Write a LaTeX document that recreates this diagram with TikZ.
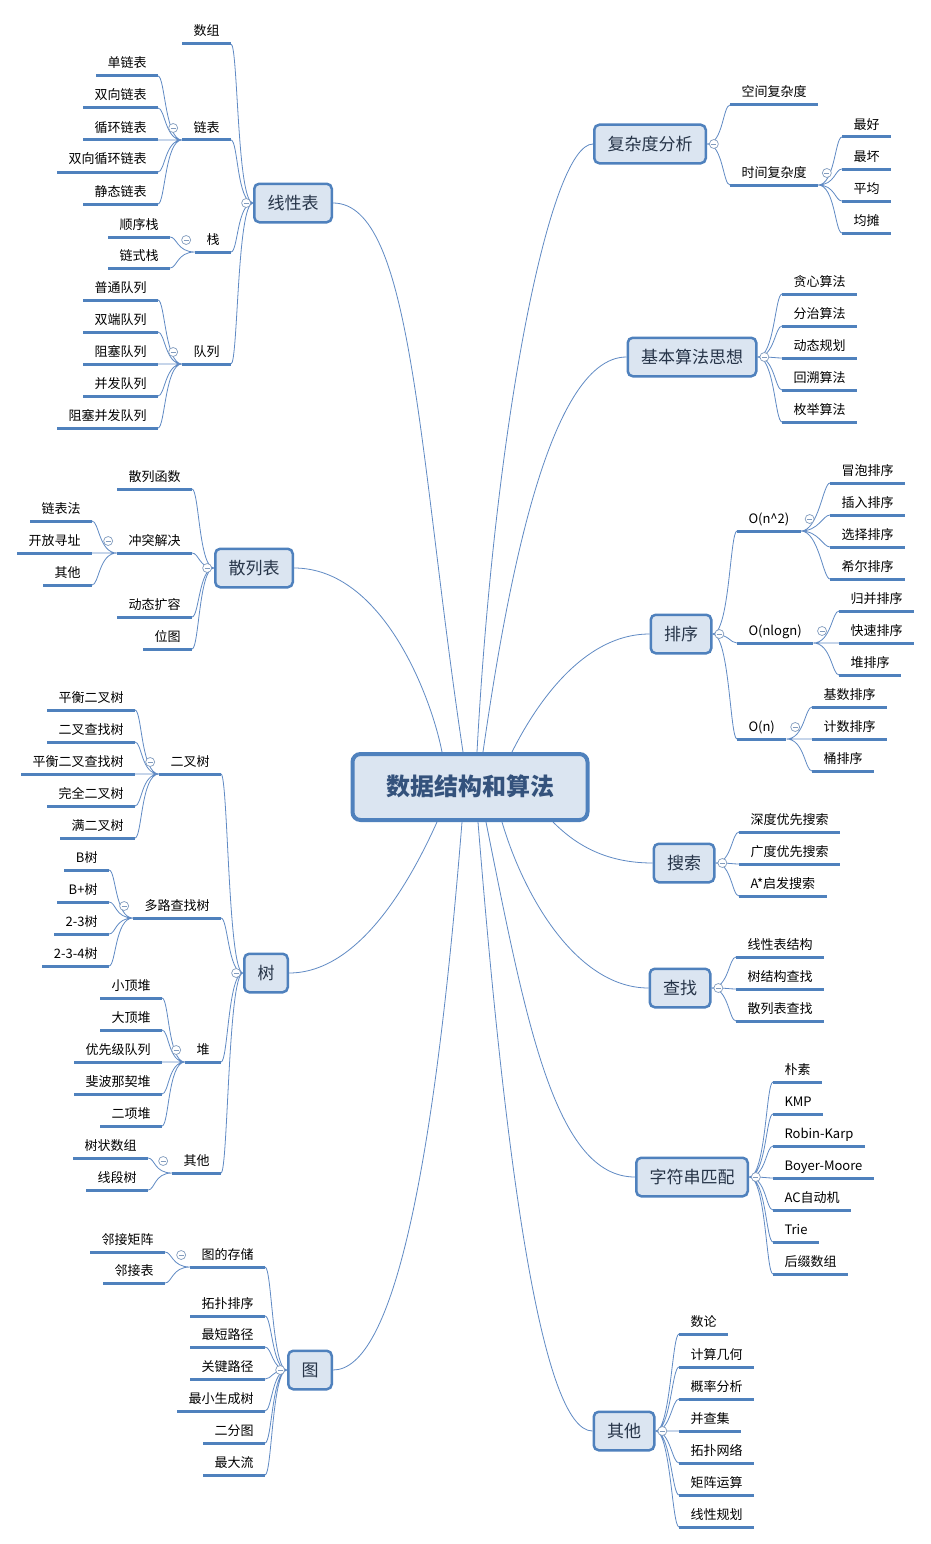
\documentclass[tikz,border=0pt]{standalone}
\usepackage{fontspec}
\setmainfont{Noto Sans CJK SC}
\usetikzlibrary{positioning,backgrounds}
\definecolor{boxfill}{RGB}{219,229,241}
\definecolor{boxline}{RGB}{79,129,189}
\definecolor{linkline}{RGB}{96,138,196}
\definecolor{foldline}{RGB}{130,156,190}
\definecolor{topictext}{RGB}{38,52,72}
\definecolor{roottext}{RGB}{52,82,124}

\begin{document}
\begin{tikzpicture}[x=1pt, y=-1pt,
    root/.style={draw=boxline, line width=4pt, fill=boxfill, rounded corners=8pt,
                 minimum width=235pt, minimum height=66pt, text=roottext,
                 font=\fontsize{24}{26}\selectfont\bfseries, text height=21pt, text depth=3.2pt},
    topic/.style={draw=boxline, line width=2.5pt, fill=boxfill, rounded corners=5pt,
                  minimum height=38.5pt, inner xsep=13.25pt, text=topictext,
                  font=\fontsize{17}{19}\selectfont, text height=15pt, text depth=2.5pt},
    leaf/.style={font=\fontsize{13}{15}\selectfont, inner xsep=11.5pt, inner ysep=5pt,
                 text height=11pt, text depth=3pt, outer sep=0pt,
                 append after command={(\tikzlastnode.south west) edge[uline] (\tikzlastnode.south east)}},
    leafl/.style={leaf, anchor=south east},
    leafr/.style={leaf, anchor=south west},
    uline/.style={draw=boxline, line width=3pt},
    conn/.style={draw=linkline, line width=0.8pt},
    lc/.style={to path={.. controls +(-#1,0) and +(7,0) .. (\tikztotarget)}},
    lc/.default=16,
    rc/.style={to path={.. controls +(#1,0) and +(-7,0) .. (\tikztotarget)}},
    rc/.default=16,
    fold/.style={circle, draw=foldline, fill=white, line width=0.7pt, inner sep=0pt, minimum size=9pt,
                 path picture={\draw[foldline, line width=0.7pt]
                   ([xshift=-2.5pt]path picture bounding box.center) -- ([xshift=2.5pt]path picture bounding box.center);}},
  ]
    \useasboundingbox (0,0) rectangle (931,1544);

    % Central topic
    \node[root] (root) at (470,787) {数据结构和算法};

    % Linear list
    \node[topic] (lin) at (293,203) {线性表};
    \node[leafl] (shuzu)    at (231,44)  {数组};
    \node[leafl] (lianbiao) at (231,140) {链表};
    \node[leafl] (zhan)     at (231,252) {栈};
    \node[leafl] (duilie)   at (231,364) {队列};
    \node[leafl] (danlb)  at (158,76)  {单链表};
    \node[leafl] (sxlb)   at (158,108) {双向链表};
    \node[leafl] (xhlb)   at (158,140) {循环链表};
    \node[leafl] (sxxhlb) at (158,172) {双向循环链表};
    \node[leafl] (jtlb)   at (158,204) {静态链表};
    \node[leafl] (sxz) at (170,237) {顺序栈};
    \node[leafl] (lsz) at (170,268) {链式栈};
    \node[leafl] (ptdl)   at (158,300) {普通队列};
    \node[leafl] (sddl)   at (158,332) {双端队列};
    \node[leafl] (zsdl)   at (158,364) {阻塞队列};
    \node[leafl] (bfdl)   at (158,396) {并发队列};
    \node[leafl] (zsbfdl) at (158,428) {阻塞并发队列};

    % Hash table
    \node[topic] (hash) at (254,568) {散列表};
    \node[leafl] (slhs) at (192,489) {散列函数};
    \node[leafl] (ctjj) at (192,553) {冲突解决};
    \node[leafl] (dtkr) at (192,617) {动态扩容};
    \node[leafl] (wt)   at (192,649) {位图};
    \node[leafl] (lbf)  at (92,521) {链表法};
    \node[leafl] (kfxz) at (92,553) {开放寻址};
    \node[leafl] (qtsl) at (92,585) {其他};

    % Tree
    \node[topic] (tree) at (266,973) {树};
    \node[leafl] (ecs)    at (221,774)  {二叉树};
    \node[leafl] (dlczs)  at (221,918)  {多路查找树};
    \node[leafl] (dui)    at (221,1062) {堆};
    \node[leafl] (qttree) at (221,1173) {其他};
    \node[leafl] (phecs) at (135,710) {平衡二叉树};
    \node[leafl] (eccz)  at (135,742) {二叉查找树};
    \node[leafl] (phcz)  at (135,774) {平衡二叉查找树};
    \node[leafl] (wqecs) at (135,806) {完全二叉树};
    \node[leafl] (mecs)  at (135,838) {满二叉树};
    \node[leafl] (bs)   at (109,870) {B树};
    \node[leafl] (bps)  at (109,902) {B+树};
    \node[leafl] (s23)  at (109,934) {2-3树};
    \node[leafl] (s234) at (109,966) {2-3-4树};
    \node[leafl] (xdd)   at (162,998)  {小顶堆};
    \node[leafl] (ddd)   at (162,1030) {大顶堆};
    \node[leafl] (yxjdl) at (162,1062) {优先级队列};
    \node[leafl] (fbnq)  at (162,1094) {斐波那契堆};
    \node[leafl] (exd)   at (162,1126) {二项堆};
    \node[leafl] (szsz) at (148,1158) {树状数组};
    \node[leafl] (xds)  at (148,1190) {线段树};

    % Graph
    \node[topic] (graph) at (310,1370) {图};
    \node[leafl] (tdcc)  at (265,1267) {图的存储};
    \node[leafl] (tppx)  at (265,1316) {拓扑排序};
    \node[leafl] (zdlj)  at (265,1347) {最短路径};
    \node[leafl] (gjlj)  at (265,1379) {关键路径};
    \node[leafl] (zxscs) at (265,1411) {最小生成树};
    \node[leafl] (efdt)  at (265,1443) {二分图};
    \node[leafl] (zdl)   at (265,1475) {最大流};
    \node[leafl] (ljjz) at (165,1252) {邻接矩阵};
    \node[leafl] (ljb)  at (165,1283) {邻接表};

    % Complexity
    \node[topic] (fzd) at (650,144) {复杂度分析};
    \node[leafr] (kjfzd) at (730,105) {空间复杂度};
    \node[leafr] (sjfzd) at (730,185) {时间复杂度};
    \node[leafr] (zh)    at (842,137) {最好};
    \node[leafr] (zhuai) at (842,169) {最坏};
    \node[leafr] (pj)    at (842,201) {平均};
    \node[leafr] (jt)    at (842,233) {均摊};

    % Basic ideas
    \node[topic] (jbsf) at (692,357) {基本算法思想};
    \node[leafr] (txsf) at (782,294) {贪心算法};
    \node[leafr] (fzsf) at (782,326) {分治算法};
    \node[leafr] (dtgh) at (782,358) {动态规划};
    \node[leafr] (hssf) at (782,390) {回溯算法};
    \node[leafr] (mjsf) at (782,422) {枚举算法};

    % Sorting
    \node[topic] (px) at (681,634) {排序};
    \node[leafr] (on2)    at (737,531) {O(n\textasciicircum 2)};
    \node[leafr] (onlogn) at (737,643) {O(nlogn)};
    \node[leafr] (on)     at (737,739) {O(n)};
    \node[leafr] (mppx) at (830,483) {冒泡排序};
    \node[leafr] (crpx) at (830,515) {插入排序};
    \node[leafr] (xzpx) at (830,547) {选择排序};
    \node[leafr] (xepx) at (830,579) {希尔排序};
    \node[leafr] (gbpx) at (839,611) {归并排序};
    \node[leafr] (kspx) at (839,643) {快速排序};
    \node[leafr] (dpx)  at (839,675) {堆排序};
    \node[leafr] (jspx)  at (812,707) {基数排序};
    \node[leafr] (jishu) at (812,739) {计数排序};
    \node[leafr] (tpx)   at (812,771) {桶排序};

    % Search
    \node[topic] (ss) at (684,863) {搜索};
    \node[leafr] (sdyx) at (739,832) {深度优先搜索};
    \node[leafr] (gdyx) at (739,864) {广度优先搜索};
    \node[leafr] (aqf)  at (739,896) {A*启发搜索};

    % Lookup
    \node[topic] (cz) at (680,988) {查找};
    \node[leafr] (xxbjg)  at (736,957)  {线性表结构};
    \node[leafr] (sjgcz)  at (736,989)  {树结构查找};
    \node[leafr] (sllbcz) at (736,1021) {散列表查找};

    % String matching
    \node[topic] (zfc) at (692,1177) {字符串匹配};
    \node[leafr] (ps)   at (773,1082) {朴素};
    \node[leafr] (kmp)  at (773,1114) {KMP};
    \node[leafr] (rk)   at (773,1146) {Robin-Karp};
    \node[leafr] (bm)   at (773,1178) {Boyer-Moore};
    \node[leafr] (ac)   at (773,1210) {AC自动机};
    \node[leafr] (trie) at (773,1242) {Trie};
    \node[leafr] (hzsz) at (773,1274) {后缀数组};

    % Others
    \node[topic] (qt) at (624,1431) {其他};
    \node[leafr] (sl)   at (679,1334) {数论};
    \node[leafr] (jsjh) at (679,1367) {计算几何};
    \node[leafr] (glfx) at (679,1399) {概率分析};
    \node[leafr] (bcj)  at (679,1431) {并查集};
    \node[leafr] (tpwl) at (679,1463) {拓扑网络};
    \node[leafr] (jzys) at (679,1495) {矩阵运算};
    \node[leafr] (xxgh) at (679,1527) {线性规划};

    % Fold buttons
    \node[fold, left=2pt of lin]      (flin) {};
    \node[fold, left=4pt of lianbiao] (flianbiao) {};
    \node[fold, left=4pt of zhan]     (fzhan) {};
    \node[fold, left=4pt of duilie]   (fduilie) {};
    \node[fold, left=2pt of hash]     (fhash) {};
    \node[fold, left=4pt of ctjj]     (fctjj) {};
    \node[fold, left=2pt of tree]     (ftree) {};
    \node[fold, left=4pt of ecs]      (fecs) {};
    \node[fold, left=4pt of dlczs]    (fdlczs) {};
    \node[fold, left=4pt of dui]      (fdui) {};
    \node[fold, left=4pt of qttree]   (fqttree) {};
    \node[fold, left=2pt of graph]    (fgraph) {};
    \node[fold, left=4pt of tdcc]     (ftdcc) {};
    \node[fold, right=2pt of fzd]     (ffzd) {};
    \node[fold, right=4pt of sjfzd]   (fsjfzd) {};
    \node[fold, right=2pt of jbsf]    (fjbsf) {};
    \node[fold, right=2pt of px]      (fpx) {};
    \node[fold, right=4pt of on2]     (fon2) {};
    \node[fold, right=4pt of onlogn]  (fonlogn) {};
    \node[fold, right=4pt of on]      (fon) {};
    \node[fold, right=2pt of ss]      (fss) {};
    \node[fold, right=2pt of cz]      (fcz) {};
    \node[fold, right=2pt of zfc]     (fzfc) {};
    \node[fold, right=2pt of qt]      (fqt) {};

    \begin{scope}[on background layer]
      \fill[white] (0,0) rectangle (931,1544);

      % Main branches
      \draw[conn] (lin.east) .. controls +(80,0) and +(-45,-300) .. ([xshift=-7pt]root.north);
      \draw[conn] (hash.east) .. controls +(90,0) and +(-10,-52) .. ([xshift=-28pt]root.north);
      \draw[conn] (tree.east) .. controls +(70,0) and +(-27,60) .. ([xshift=-33pt]root.south);
      \draw[conn] (graph.east) .. controls +(60,0) and +(-28,350) .. ([xshift=-8pt]root.south);
      \draw[conn] (fzd.west) .. controls +(-43,0) and +(18,-332) .. ([xshift=7pt]root.north);
      \draw[conn] (jbsf.west) .. controls +(-80,0) and +(22,-152) .. ([xshift=13pt]root.north);
      \draw[conn] (px.west) .. controls +(-70,0) and +(20,-40) .. ([xshift=42pt]root.north);
      \draw[conn] (ss.west) .. controls +(-50,0) and +(20,20) .. ([xshift=83pt]root.south);
      \draw[conn] (cz.west) .. controls +(-70,0) and +(23,78) .. ([xshift=32pt]root.south);
      \draw[conn] (zfc.west) .. controls +(-80,0) and +(40,200) .. ([xshift=16pt]root.south);
      \draw[conn] (qt.west) .. controls +(-50,0) and +(28,350) .. ([xshift=8pt]root.south);

      % Left sub-branches
      \draw[conn] (lin.west) to[lc] (shuzu.south east) (lin.west) to[lc] (lianbiao.south east)
                  (lin.west) to[lc] (zhan.south east) (lin.west) to[lc] (duilie.south east);
      \draw[conn] (lianbiao.south west) to[lc=17] (danlb.south east) (lianbiao.south west) to[lc=17] (sxlb.south east)
                  (lianbiao.south west) to[lc=17] (xhlb.south east) (lianbiao.south west) to[lc=17] (sxxhlb.south east)
                  (lianbiao.south west) to[lc=17] (jtlb.south east);
      \draw[conn] (zhan.south west) to[lc=18] (sxz.south east) (zhan.south west) to[lc=18] (lsz.south east);
      \draw[conn] (duilie.south west) to[lc=17] (ptdl.south east) (duilie.south west) to[lc=17] (sddl.south east)
                  (duilie.south west) to[lc=17] (zsdl.south east) (duilie.south west) to[lc=17] (bfdl.south east)
                  (duilie.south west) to[lc=17] (zsbfdl.south east);
      \draw[conn] (hash.west) to[lc=15] (slhs.south east) (hash.west) to[lc=15] (ctjj.south east)
                  (hash.west) to[lc=15] (dtkr.south east) (hash.west) to[lc=15] (wt.south east);
      \draw[conn] (ctjj.south west) to[lc=18] (lbf.south east) (ctjj.south west) to[lc=18] (kfxz.south east)
                  (ctjj.south west) to[lc=18] (qtsl.south east);
      \draw[conn] (tree.west) to[lc=15] (ecs.south east) (tree.west) to[lc=15] (dlczs.south east)
                  (tree.west) to[lc=15] (dui.south east) (tree.west) to[lc=15] (qttree.south east);
      \draw[conn] (ecs.south west) to[lc=18] (phecs.south east) (ecs.south west) to[lc=18] (eccz.south east)
                  (ecs.south west) to[lc=18] (phcz.south east) (ecs.south west) to[lc=18] (wqecs.south east)
                  (ecs.south west) to[lc=18] (mecs.south east);
      \draw[conn] (dlczs.south west) to[lc=18] (bs.south east) (dlczs.south west) to[lc=18] (bps.south east)
                  (dlczs.south west) to[lc=18] (s23.south east) (dlczs.south west) to[lc=18] (s234.south east);
      \draw[conn] (dui.south west) to[lc=17] (xdd.south east) (dui.south west) to[lc=17] (ddd.south east)
                  (dui.south west) to[lc=17] (yxjdl.south east) (dui.south west) to[lc=17] (fbnq.south east)
                  (dui.south west) to[lc=17] (exd.south east);
      \draw[conn] (qttree.south west) to[lc=18] (szsz.south east) (qttree.south west) to[lc=18] (xds.south east);
      \draw[conn] (graph.west) to[lc=15] (tdcc.south east) (graph.west) to[lc=15] (tppx.south east)
                  (graph.west) to[lc=15] (zdlj.south east) (graph.west) to[lc=15] (gjlj.south east)
                  (graph.west) to[lc=15] (zxscs.south east) (graph.west) to[lc=15] (efdt.south east)
                  (graph.west) to[lc=15] (zdl.south east);
      \draw[conn] (tdcc.south west) to[lc=18] (ljjz.south east) (tdcc.south west) to[lc=18] (ljb.south east);

      % Right sub-branches
      \draw[conn] (fzd.east) to[rc] (kjfzd.south west) (fzd.east) to[rc] (sjfzd.south west);
      \draw[conn] (sjfzd.south east) to[rc=17] (zh.south west) (sjfzd.south east) to[rc=17] (zhuai.south west)
                  (sjfzd.south east) to[rc=17] (pj.south west) (sjfzd.south east) to[rc=17] (jt.south west);
      \draw[conn] (jbsf.east) to[rc=17] (txsf.south west) (jbsf.east) to[rc=17] (fzsf.south west)
                  (jbsf.east) to[rc=17] (dtgh.south west) (jbsf.east) to[rc=17] (hssf.south west)
                  (jbsf.east) to[rc=17] (mjsf.south west);
      \draw[conn] (px.east) to[rc=17] (on2.south west) (px.east) to[rc=17] (onlogn.south west)
                  (px.east) to[rc=17] (on.south west);
      \draw[conn] (on2.south east) to[rc=18] (mppx.south west) (on2.south east) to[rc=18] (crpx.south west)
                  (on2.south east) to[rc=18] (xzpx.south west) (on2.south east) to[rc=18] (xepx.south west);
      \draw[conn] (onlogn.south east) to[rc=18] (gbpx.south west) (onlogn.south east) to[rc=18] (kspx.south west)
                  (onlogn.south east) to[rc=18] (dpx.south west);
      \draw[conn] (on.south east) to[rc=18] (jspx.south west) (on.south east) to[rc=18] (jishu.south west)
                  (on.south east) to[rc=18] (tpx.south west);
      \draw[conn] (ss.east) to[rc] (sdyx.south west) (ss.east) to[rc] (gdyx.south west)
                  (ss.east) to[rc] (aqf.south west);
      \draw[conn] (cz.east) to[rc=17] (xxbjg.south west) (cz.east) to[rc=17] (sjgcz.south west)
                  (cz.east) to[rc=17] (sllbcz.south west);
      \draw[conn] (zfc.east) to[rc=17] (ps.south west) (zfc.east) to[rc=17] (kmp.south west)
                  (zfc.east) to[rc=17] (rk.south west) (zfc.east) to[rc=17] (bm.south west)
                  (zfc.east) to[rc=17] (ac.south west) (zfc.east) to[rc=17] (trie.south west)
                  (zfc.east) to[rc=17] (hzsz.south west);
      \draw[conn] (qt.east) to[rc=15] (sl.south west) (qt.east) to[rc=15] (jsjh.south west)
                  (qt.east) to[rc=15] (glfx.south west) (qt.east) to[rc=15] (bcj.south west)
                  (qt.east) to[rc=15] (tpwl.south west) (qt.east) to[rc=15] (jzys.south west)
                  (qt.east) to[rc=15] (xxgh.south west);
    \end{scope}
  \end{tikzpicture}
\end{document}
